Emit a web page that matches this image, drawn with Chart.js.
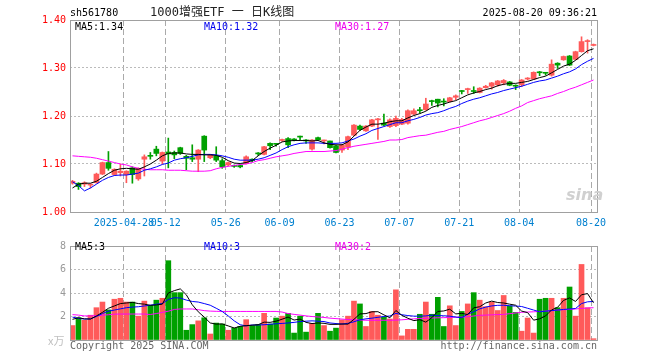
<!DOCTYPE html>
<html>
<head>
<meta charset="utf-8">
<script src="https://cdn.jsdelivr.net/npm/chart.js@4"></script>
<style>
body { margin: 0; background: #fff; }
#wrap { position: relative; width: 660px; height: 360px; overflow: hidden; }
canvas { position: absolute; left: 0; }
.t { position: absolute; font: 10px/12px 'DejaVu Sans Mono', monospace; white-space: pre; }
</style>
</head>
<body>
<div id="wrap">
  <canvas id="kline" width="660" height="236" style="top:0"></canvas>
  <canvas id="vol" width="660" height="124" style="top:236px"></canvas>

  <div class="t" style="left:70px;top:7px;color:#000">sh561780</div>
  <div class="t" style="left:150px;top:5px;font:12px/14px 'DejaVu Sans Mono','Noto Sans CJK SC';color:#222">1000增强ETF 一 日K线图</div>
  <div class="t" style="right:63px;top:7px;color:#000">2025-08-20 09:36:21</div>

  <div class="t" style="left:75px;top:21px;color:#000">MA5:1.34</div>
  <div class="t" style="left:204px;top:21px;color:#0000ee">MA10:1.32</div>
  <div class="t" style="left:335px;top:21px;color:#ee00ee">MA30:1.27</div>

  <div class="t" style="left:566px;top:186px;font:italic bold 16px/18px 'DejaVu Sans';color:#d0d0d0">sina</div>

  <div class="t" style="left:75px;top:241px;color:#000">MA5:3</div>
  <div class="t" style="left:204px;top:241px;color:#0000ee">MA10:3</div>
  <div class="t" style="left:335px;top:241px;color:#ee00ee">MA30:2</div>
  <div class="t" style="left:48px;top:334px;font:11px/12px 'Noto Sans CJK SC';color:#c0c0c0">x万</div>

  <div class="t" style="left:70px;top:340px;color:#666">Copyright 2025 SINA.COM</div>
  <div class="t" style="right:63px;top:340px;color:#666">http://finance.sina.com.cn</div>
</div>

<script>
// date ticks (trading-day index -> label)
const tickIndex = [9, 16, 26, 35, 45, 55, 65, 75, 87];
const tickLabels = ['2025-04-28', '05-12', '05-26', '06-09', '06-23', '07-07', '07-21', '08-04', '08-20'];
const priceTicks = [1.0, 1.1, 1.2, 1.3, 1.4];
const volTicks = [0, 2, 4, 6, 8];

// daily candles, 2025-04-15 .. 2025-08-20
const open = [1.060,1.060,1.058,1.056,1.061,1.079,1.103,1.078,1.082,1.078,
  1.092,1.069,1.110,1.117,1.131,1.106,1.125,1.124,1.134,1.116,
  1.113,1.110,1.158,1.113,1.117,1.107,1.098,1.097,1.097,1.101,
  1.110,1.122,1.120,1.143,1.142,1.149,1.153,1.151,1.157,1.150,
  1.131,1.155,1.148,1.148,1.138,1.129,1.135,1.160,1.179,1.169,
  1.179,1.192,1.185,1.178,1.180,1.183,1.185,1.204,1.213,1.213,
  1.231,1.235,1.230,1.230,1.239,1.252,1.255,1.252,1.249,1.259,
  1.262,1.265,1.269,1.271,1.263,1.265,1.277,1.277,1.291,1.290,
  1.285,1.310,1.317,1.325,1.318,1.334,1.355,1.347];
const high = [1.066,1.061,1.063,1.059,1.081,1.104,1.126,1.090,1.100,1.086,
  1.094,1.092,1.119,1.124,1.137,1.125,1.154,1.127,1.135,1.118,
  1.140,1.130,1.159,1.120,1.136,1.111,1.104,1.098,1.098,1.117,
  1.111,1.124,1.137,1.144,1.143,1.152,1.155,1.153,1.158,1.151,
  1.151,1.156,1.150,1.148,1.139,1.141,1.158,1.182,1.181,1.180,
  1.193,1.195,1.204,1.194,1.200,1.195,1.213,1.215,1.218,1.237,
  1.233,1.235,1.236,1.239,1.244,1.253,1.258,1.261,1.259,1.264,
  1.270,1.274,1.276,1.272,1.265,1.276,1.280,1.292,1.293,1.291,
  1.317,1.311,1.325,1.326,1.335,1.365,1.359,1.350];
const low = [1.058,1.047,1.053,1.050,1.060,1.078,1.087,1.076,1.075,1.061,
  1.060,1.066,1.075,1.110,1.117,1.100,1.092,1.111,1.120,1.088,
  1.105,1.084,1.105,1.111,1.105,1.091,1.096,1.093,1.092,1.100,
  1.105,1.118,1.119,1.130,1.137,1.147,1.134,1.148,1.150,1.143,
  1.129,1.149,1.142,1.133,1.123,1.124,1.130,1.159,1.170,1.168,
  1.178,1.151,1.180,1.176,1.178,1.182,1.183,1.203,1.206,1.212,
  1.222,1.219,1.221,1.229,1.234,1.246,1.247,1.247,1.248,1.258,
  1.256,1.262,1.265,1.263,1.255,1.261,1.275,1.276,1.284,1.285,
  1.283,1.299,1.316,1.305,1.317,1.333,1.331,1.346];
const close = [1.064,1.053,1.061,1.057,1.079,1.103,1.091,1.089,1.085,1.085,
  1.078,1.091,1.115,1.116,1.122,1.124,1.121,1.119,1.122,1.112,
  1.110,1.129,1.129,1.118,1.108,1.094,1.103,1.095,1.094,1.115,
  1.107,1.121,1.136,1.138,1.141,1.150,1.140,1.150,1.156,1.148,
  1.150,1.150,1.149,1.134,1.124,1.140,1.157,1.181,1.172,1.179,
  1.192,1.194,1.181,1.192,1.195,1.193,1.211,1.211,1.211,1.225,
  1.230,1.227,1.229,1.238,1.242,1.251,1.257,1.251,1.258,1.262,
  1.269,1.273,1.274,1.264,1.262,1.275,1.279,1.291,1.290,1.289,
  1.308,1.306,1.324,1.306,1.334,1.355,1.356,1.348];

const ma5 = [1.050,1.058,1.060,1.060,1.064,1.072,1.080,1.087,1.090,1.091,
  1.090,1.089,1.094,1.100,1.108,1.117,1.122,1.123,1.123,1.121,
  1.120,1.120,1.119,1.119,1.118,1.114,1.107,1.102,1.101,1.103,
  1.107,1.117,1.126,1.133,1.139,1.146,1.148,1.149,1.149,1.149,
  1.148,1.149,1.144,1.141,1.140,1.140,1.146,1.158,1.170,1.177,
  1.183,1.183,1.185,1.188,1.190,1.190,1.196,1.201,1.205,1.210,
  1.218,1.222,1.225,1.229,1.232,1.238,1.244,1.248,1.251,1.255,
  1.258,1.263,1.266,1.268,1.268,1.270,1.272,1.276,1.280,1.283,
  1.290,1.297,1.304,1.308,1.316,1.326,1.336,1.340];
const ma10 = [1.063,1.055,1.044,1.050,1.058,1.066,1.072,1.076,1.077,1.077,
  1.079,1.081,1.087,1.090,1.094,1.099,1.102,1.108,1.111,1.113,
  1.116,1.119,1.120,1.120,1.119,1.117,1.114,1.110,1.108,1.108,
  1.108,1.110,1.113,1.118,1.123,1.130,1.136,1.140,1.143,1.144,
  1.144,1.144,1.143,1.143,1.143,1.144,1.148,1.152,1.158,1.163,
  1.170,1.174,1.178,1.182,1.186,1.186,1.190,1.193,1.197,1.202,
  1.205,1.207,1.211,1.216,1.220,1.226,1.231,1.235,1.238,1.242,
  1.246,1.249,1.253,1.256,1.259,1.262,1.266,1.270,1.273,1.275,
  1.279,1.283,1.288,1.292,1.298,1.307,1.314,1.320];
const ma30 = [1.117,1.116,1.115,1.114,1.112,1.109,1.106,1.103,1.100,1.098,
  1.094,1.091,1.089,1.088,1.088,1.088,1.087,1.087,1.087,1.086,
  1.085,1.085,1.085,1.086,1.090,1.093,1.095,1.097,1.099,1.100,
  1.103,1.107,1.109,1.112,1.115,1.117,1.119,1.122,1.124,1.126,
  1.126,1.126,1.126,1.127,1.128,1.131,1.134,1.137,1.139,1.141,
  1.143,1.145,1.147,1.150,1.150,1.151,1.155,1.157,1.159,1.160,
  1.163,1.166,1.168,1.172,1.175,1.178,1.182,1.186,1.190,1.193,
  1.197,1.201,1.205,1.210,1.216,1.221,1.228,1.232,1.236,1.239,
  1.242,1.247,1.251,1.256,1.260,1.265,1.270,1.275];

// volume (x 10k)
const volume = [1.23,1.89,1.68,2.11,2.75,3.23,2.56,3.47,3.55,3.23,
  3.23,2.03,3.31,2.96,3.39,3.55,6.75,4.03,4.03,0.83,
  1.31,1.63,1.89,0.51,1.44,1.36,0.83,1.01,1.15,1.73,
  1.23,1.31,2.27,1.36,1.87,2.03,2.27,0.59,2.03,0.67,
  1.41,2.27,1.23,0.75,1.01,1.71,2.03,3.31,3.07,1.15,
  2.43,2.11,1.95,1.79,4.27,0.35,0.91,0.91,2.19,3.23,
  2.19,3.63,1.15,2.91,1.23,2.43,3.07,4.03,3.39,2.83,
  3.23,2.51,3.79,2.91,2.35,0.75,1.87,0.59,3.47,3.55,
  3.55,2.75,3.55,4.51,2.03,6.43,2.75,0.11];
const volMa5 = [1.76,1.89,1.80,1.78,2.05,2.35,2.70,2.90,3.10,3.15,
  3.20,3.10,3.05,2.95,2.98,3.05,4.00,4.20,4.35,3.85,
  3.00,2.40,1.95,1.45,1.35,1.37,1.20,1.02,1.16,1.22,
  1.26,1.30,1.52,1.50,1.60,1.77,1.95,1.70,1.78,1.50,
  1.40,1.45,1.42,1.33,1.33,1.36,1.35,1.76,2.22,2.25,
  2.40,2.41,2.14,1.89,2.51,2.10,1.85,1.65,1.73,1.52,
  1.90,2.43,2.47,2.62,2.22,2.27,2.16,2.74,2.83,3.15,
  3.31,3.19,3.15,3.05,2.96,2.46,2.33,1.69,1.80,2.05,
  2.56,2.78,3.37,3.58,3.28,3.85,3.95,3.17];
const volMa10 = [1.95,1.84,1.78,1.80,2.00,2.25,2.45,2.55,2.65,2.75,
  2.80,2.83,2.90,2.96,3.05,3.10,3.45,3.60,3.57,3.40,
  3.28,3.23,3.10,2.96,2.70,2.43,2.05,1.63,1.30,1.20,
  1.28,1.28,1.30,1.34,1.38,1.41,1.45,1.50,1.57,1.60,
  1.63,1.60,1.57,1.45,1.40,1.36,1.42,1.55,1.72,1.80,
  1.86,1.93,2.00,2.04,2.27,2.15,2.08,2.03,2.03,2.05,
  2.11,2.08,2.06,2.03,1.95,1.90,2.20,2.40,2.65,2.80,
  2.90,2.95,2.96,2.91,2.89,2.85,2.70,2.55,2.40,2.45,
  2.50,2.55,2.60,2.64,2.68,3.10,3.25,3.28];
const volMa30 = [2.16,2.12,2.05,2.05,2.08,2.11,2.15,2.20,2.21,2.21,
  2.21,2.21,2.21,2.17,2.25,2.35,2.45,2.60,2.64,2.64,
  2.64,2.58,2.50,2.46,2.44,2.43,2.43,2.43,2.43,2.43,
  2.43,2.43,2.43,2.43,2.43,2.38,2.25,2.18,2.12,2.05,
  2.00,1.96,1.92,1.86,1.82,1.78,1.74,1.72,1.70,1.68,
  1.68,1.68,1.68,1.68,1.69,1.72,1.76,1.80,1.83,1.85,
  1.87,1.89,1.90,1.92,1.94,1.95,1.98,2.04,2.10,2.12,
  2.14,2.16,2.18,2.24,2.30,2.36,2.38,2.40,2.43,2.46,
  2.50,2.55,2.58,2.60,2.64,2.69,2.72,2.75];

const UP = '#ff5a5a', DOWN = '#00a000';
const X0 = 2.5 / 6;           // bar centre inside its day slot
const colors = close.map((c, i) => c >= open[i] ? UP : DOWN);
const pts = arr => arr.map((v, i) => ({ x: i + X0, y: v }));

Chart.defaults.font.family = "'DejaVu Sans Mono', monospace";
Chart.defaults.font.size = 10;

// grey box round the plot area
const frame = {
  id: 'frame',
  afterDraw(chart) {
    const { ctx, chartArea: a } = chart;
    ctx.save();
    ctx.strokeStyle = '#a0a0a0';
    ctx.lineWidth = 1;
    ctx.strokeRect(Math.round(a.left) + 0.5, Math.round(a.top) + 0.5,
      Math.round(a.right - a.left), Math.round(a.bottom - a.top));
    ctx.restore();
  }
};

function xAxis(showLabels, h) {
  return {
    type: 'linear', min: 0, max: close.length, offset: false,
    afterBuildTicks: s => { s.ticks = tickIndex.map(v => ({ value: v })); },
    afterFit: s => { s.height = h; },
    ticks: {
      display: showLabels, autoSkip: false, maxRotation: 0, minRotation: 0,
      padding: 5, color: '#0080d0',
      callback: v => tickLabels[tickIndex.indexOf(v)]
    },
    grid: { offset: false, drawTicks: false, color: '#aaaaaa' },
    border: { display: false, dash: [6, 3] }
  };
}

function line(data, color) {
  return { type: 'line', data: pts(data), borderColor: color, borderWidth: 1,
    pointRadius: 0, fill: false, tension: 0, order: 0 };
}

const common = {
  responsive: false, animation: false,
  plugins: { legend: { display: false }, tooltip: { enabled: false } }
};

new Chart(document.getElementById('kline'), {
  type: 'bar',
  data: {
    datasets: [
      line(ma5, '#000000'),
      line(ma10, '#0000ff'),
      line(ma30, '#ff00ff'),
      { data: open.map((o, i) => ({ x: i + X0, y: [o, close[i]] })),
        backgroundColor: colors, barThickness: 5, minBarLength: 1,
        grouped: false, borderWidth: 0, order: 1 },
      { data: low.map((l, i) => ({ x: i + X0, y: [l, high[i]] })),
        backgroundColor: colors, barThickness: 1,
        grouped: false, borderWidth: 0, order: 2 }
    ]
  },
  options: {
    ...common,
    layout: { padding: { top: 20, right: 63, left: 0, bottom: 0 } },
    scales: {
      x: xAxis(true, 24),
      y: {
        min: 1.0, max: 1.4,
        afterBuildTicks: s => { s.ticks = priceTicks.map(v => ({ value: v })); },
        afterFit: s => { s.width = 70; },
        ticks: { color: '#ff0000', padding: 4, callback: v => v.toFixed(2) },
        grid: { drawTicks: false, color: '#bbbbbb' },
        border: { display: false, dash: [2, 2] }
      }
    }
  },
  plugins: [frame]
});

new Chart(document.getElementById('vol'), {
  type: 'bar',
  data: {
    datasets: [
      line(volMa5, '#000000'),
      line(volMa10, '#0000ff'),
      line(volMa30, '#ff00ff'),
      { data: pts(volume), backgroundColor: colors, barThickness: 5,
        grouped: false, borderWidth: 0, order: 1 }
    ]
  },
  options: {
    ...common,
    layout: { padding: { top: 4, right: 63, left: 0, bottom: 0 } },
    scales: {
      x: xAxis(false, 20),
      y: {
        min: 0, max: 8,
        afterBuildTicks: s => { s.ticks = volTicks.map(v => ({ value: v })); },
        afterFit: s => { s.width = 70; },
        ticks: { color: '#999999', padding: 4, callback: v => v === 0 ? '' : String(v) },
        grid: { drawTicks: false, color: '#bbbbbb' },
        border: { display: false, dash: [2, 2] }
      }
    }
  },
  plugins: [frame]
});
</script>
</body>
</html>
